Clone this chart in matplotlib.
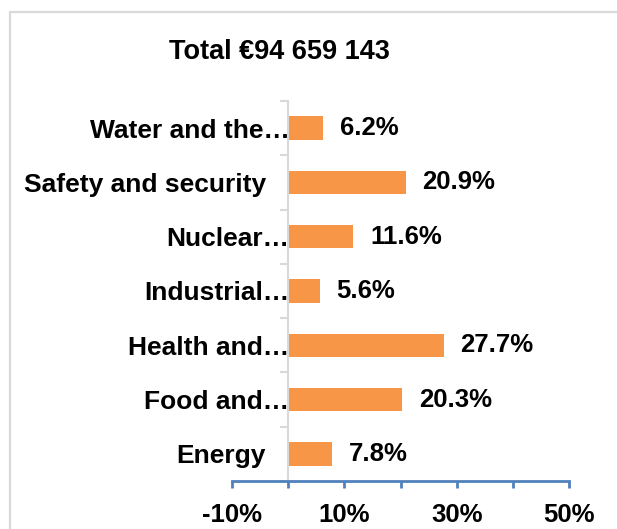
import matplotlib.pyplot as plt
from matplotlib.patches import Rectangle
from matplotlib.transforms import ScaledTranslation

plt.rcParams['font.family'] = ['Liberation Sans', 'DejaVu Sans']
plt.rcParams['font.weight'] = 'bold'

# datos (de abajo hacia arriba)
categorias = ['Energy', 'Food and…', 'Health and…', 'Industrial…',
              'Nuclear…', 'Safety and security', 'Water and the…']
valores = [7.8, 20.3, 27.7, 5.6, 11.6, 20.9, 6.2]
etiquetas = ['7.8%', '20.3%', '27.7%', '5.6%', '11.6%', '20.9%', '6.2%']
ticks_x = [-10, 0, 10, 20, 30, 40, 50]
ticks_x_txt = ['-10%', '', '10%', '', '30%', '', '50%']
titulo = 'Total €94 659 143'

naranja = '#F79646'
azul = '#4F81BD'
gris = '#D9D9D9'

fig = plt.figure(figsize=(6.17, 5.29), dpi=100)
# marco gris del grafico
fig.patches.append(Rectangle((10/617, -0.1), 1.2, 1.1 - 12/529, transform=fig.transFigure,
                             fill=False, edgecolor=gris, linewidth=1.6))

ax = fig.add_axes([232/617, 1 - 481/529, 337/617, 380/529])
pos = range(len(categorias))
ax.barh(pos, valores, height=0.43, color=naranja)

for y, v, t in zip(pos, valores, etiquetas):
    ax.annotate(t, (v, y), xytext=(12, 0), textcoords='offset points',
                va='center', ha='left', fontsize=18.5, fontweight='bold')

ax.set_xlim(-10, 50)
ax.set_ylim(-0.5, len(categorias) - 0.5)
ax.set_xticks(ticks_x)
ax.set_xticklabels(ticks_x_txt)
ax.set_yticks(list(pos))
ax.set_yticklabels(categorias)
ax.set_yticks([i - 0.5 for i in range(len(categorias) + 1)], minor=True)

ax.spines['top'].set_visible(False)
ax.spines['right'].set_visible(False)
ax.spines['left'].set_position(('data', 0))
ax.spines['left'].set_color(gris)
ax.spines['left'].set_linewidth(1.5)
ax.spines['bottom'].set_color(azul)
ax.spines['bottom'].set_linewidth(2)

ax.tick_params(axis='x', direction='out', length=5, width=2, color=azul, pad=11, labelsize=18.5)
ax.tick_params(axis='y', which='major', length=0, pad=16, labelsize=19)
ax.tick_params(axis='y', which='minor', direction='out', length=6, width=1.5, color=gris)

# etiquetas cortadas pegadas al eje
for lab in ax.get_yticklabels():
    lab.set_fontweight('bold')
    if lab.get_text().endswith('…'):
        lab.set_transform(lab.get_transform() + ScaledTranslation(17/72, 0, fig.dpi_scale_trans))
for lab in ax.get_xticklabels():
    lab.set_fontweight('bold')

fig.text(279/617, 1 - 52/529, titulo, ha='center', va='center', fontsize=19.5, fontweight='bold')

fig.savefig('out.png', dpi=100)
